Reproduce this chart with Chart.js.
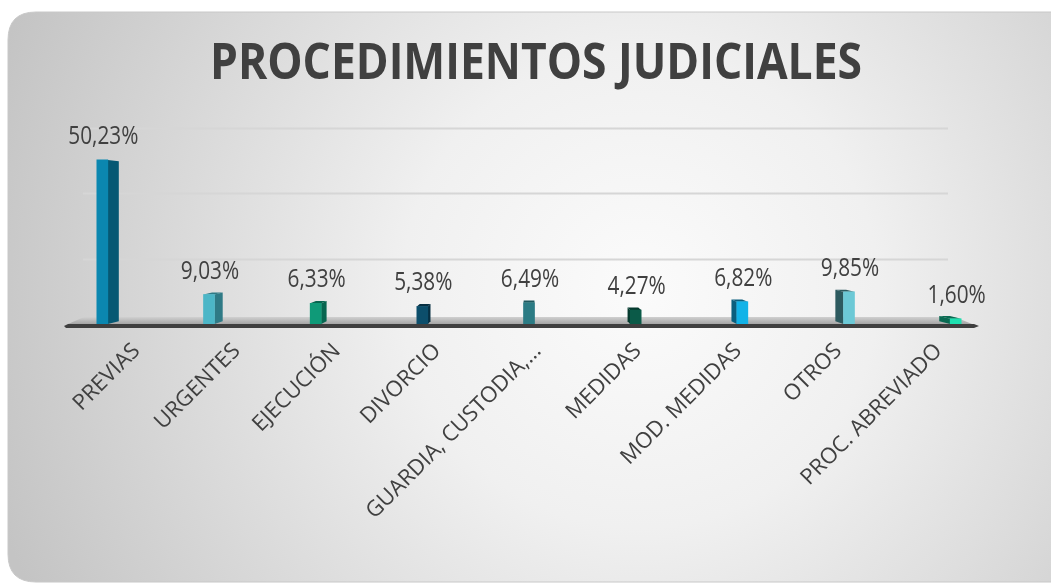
<!DOCTYPE html>
<html>
<head>
<meta charset="utf-8">
<script src="https://cdn.jsdelivr.net/npm/chart.js@4.4.1/dist/chart.umd.min.js"></script>
<style>
  html, body { margin: 0; padding: 0; background: #ffffff; }
  #wrap { width: 1051px; height: 583px; position: relative; }
</style>
</head>
<body>
<div id="wrap"><canvas id="chart"></canvas></div>
<script>
const chartTitle = "PROCEDIMIENTOS JUDICIALES";
const categories = ["PREVIAS", "URGENTES", "EJECUCIÓN", "DIVORCIO", "GUARDIA, CUSTODIA,…", "MEDIDAS", "MOD. MEDIDAS", "OTROS", "PROC. ABREVIADO"];
const percentages = [50.23, 9.03, 6.33, 5.38, 6.49, 4.27, 6.82, 9.85, 1.60];
const yTicks = [0, 20, 40, 60];

// front face / side face colours for each column
const frontColors = ["#0b87b0", "#4cb6c7", "#0f9a78", "#0c4e6b", "#2b7b84", "#0b5a48", "#12b3e8", "#6cc9d6", "#1ee0b0"];
const sideColors  = ["#065873", "#2f7a86", "#076650", "#072f42", "#1d575d", "#053a2e", "#0a5f7e", "#2d5a5f", "#0a6a52"];

// fake 3D: vanishing point and depth of the columns
const VP = { x: 530, y: 215 };
const DEPTH = 0.026;

function back(px, py) {
    return [px + (VP.x - px) * DEPTH, py + (VP.y - py) * DEPTH];
}

function fmt(v) {
    return v.toFixed(2).replace(".", ",") + "%";
}

const cardPlugin = {
    id: "card",
    beforeDraw(chart) {
        const ctx = chart.ctx;
        const x = 8, y = 12, w = 1100, h = 570, r = 28;
        ctx.save();
        const g = ctx.createRadialGradient(640, 290, 0, 640, 290, 680);
        g.addColorStop(0, "#fbfbfb");
        g.addColorStop(0.35, "#f0f0f0");
        g.addColorStop(1, "#c4c4c4");
        ctx.beginPath();
        ctx.moveTo(x + r, y);
        ctx.lineTo(x + w, y);
        ctx.lineTo(x + w, y + h);
        ctx.lineTo(x + r, y + h);
        ctx.quadraticCurveTo(x, y + h, x, y + h - r);
        ctx.lineTo(x, y + r);
        ctx.quadraticCurveTo(x, y, x + r, y);
        ctx.closePath();
        ctx.fillStyle = g;
        ctx.fill();
        ctx.strokeStyle = "#c8c8c8";
        ctx.lineWidth = 1;
        ctx.stroke();

        // title
        ctx.fillStyle = "#404040";
        ctx.font = "bold 50px 'Open Sans'";
        ctx.textAlign = "center";
        ctx.textBaseline = "alphabetic";
        ctx.fillText(chartTitle, 536, 79, 652);
        ctx.restore();
    }
};

const wallPlugin = {
    id: "wall",
    beforeDatasetsDraw(chart) {
        const ctx = chart.ctx;
        const ys = chart.scales.y;
        const area = chart.chartArea;
        ctx.save();
        // gridlines on the back wall
        ctx.strokeStyle = "#d6d6d6";
        ctx.lineWidth = 2;
        yTicks.forEach(t => {
            if (t === 0) return;
            const py = Math.round(ys.getPixelForValue(t)) + 0.5;
            ctx.beginPath();
            ctx.moveTo(83, py);
            ctx.lineTo(948, py);
            ctx.stroke();
        });
        // floor
        const b = area.bottom;
        const fg = ctx.createLinearGradient(0, b - 7, 0, b);
        fg.addColorStop(0, "#d0d0d0");
        fg.addColorStop(1, "#a5a5a5");
        ctx.fillStyle = fg;
        ctx.beginPath();
        ctx.moveTo(84, b - 7);
        ctx.lineTo(955, b - 7);
        ctx.lineTo(972, b);
        ctx.lineTo(68, b);
        ctx.closePath();
        ctx.fill();
        ctx.fillStyle = "#3f3f3f";
        ctx.beginPath();
        ctx.moveTo(68, b);
        ctx.lineTo(974, b);
        ctx.lineTo(979, b + 2);
        ctx.lineTo(974, b + 4);
        ctx.lineTo(66, b + 4);
        ctx.lineTo(64, b + 2);
        ctx.closePath();
        ctx.fill();

        // side and top faces of each column, behind the front face
        const meta = chart.getDatasetMeta(0);
        meta.data.forEach((bar, i) => {
            const x0 = bar.x - bar.width / 2, x1 = bar.x + bar.width / 2;
            const yt = bar.y, yb = bar.base;
            const ex = bar.x < VP.x ? x1 : x0;
            const a = back(ex, yt), c = back(ex, yb);
            ctx.fillStyle = sideColors[i];
            ctx.beginPath();
            ctx.moveTo(ex, yt);
            ctx.lineTo(a[0], a[1]);
            ctx.lineTo(c[0], c[1]);
            ctx.lineTo(ex, yb);
            ctx.closePath();
            ctx.fill();
            if (yt > VP.y) {
                const p = back(x0, yt), q = back(x1, yt);
                ctx.beginPath();
                ctx.moveTo(x0, yt);
                ctx.lineTo(x1, yt);
                ctx.lineTo(q[0], q[1]);
                ctx.lineTo(p[0], p[1]);
                ctx.closePath();
                ctx.fill();
            }
        });
        ctx.restore();
    },
    afterDatasetsDraw(chart) {
        const ctx = chart.ctx;
        const meta = chart.getDatasetMeta(0);
        const xs = chart.scales.x;
        ctx.save();
        ctx.fillStyle = "#404040";
        // value labels
        ctx.font = "26px 'Open Sans'";
        ctx.textAlign = "center";
        ctx.textBaseline = "alphabetic";
        meta.data.forEach((bar, i) => {
            const txt = fmt(percentages[i]);
            const w = ctx.measureText(txt).width * 0.8;
            ctx.fillText(txt, bar.x + 1, bar.y - 16, w);
        });
        // category labels, rotated, following the floor's front edge
        ctx.font = "22px 'Open Sans'";
        ctx.textAlign = "right";
        categories.forEach((cat, i) => {
            const cx = xs.getPixelForValue(i);
            const off = 13 - 0.06 * (cx - VP.x);
            ctx.save();
            ctx.translate(cx + off, 352);
            ctx.rotate(-Math.PI / 4);
            ctx.fillText(cat, 0, 0);
            ctx.restore();
        });
        ctx.restore();
    }
};

new Chart(document.getElementById("chart"), {
    type: "bar",
    data: {
        labels: categories,
        datasets: [{
            data: percentages,
            backgroundColor: frontColors,
            borderWidth: 0,
            barThickness: 11
        }]
    },
    options: {
        responsive: true,
        maintainAspectRatio: false,
        animation: false,
        layout: { padding: { left: 49, right: 42, top: 128, bottom: 259 } },
        plugins: {
            legend: { display: false },
            tooltip: { enabled: false },
            title: { display: false }
        },
        scales: {
            x: { display: false },
            y: {
                display: false,
                min: 0,
                max: 60,
                ticks: { stepSize: 20 }
            }
        }
    },
    plugins: [cardPlugin, wallPlugin]
});
</script>
</body>
</html>
